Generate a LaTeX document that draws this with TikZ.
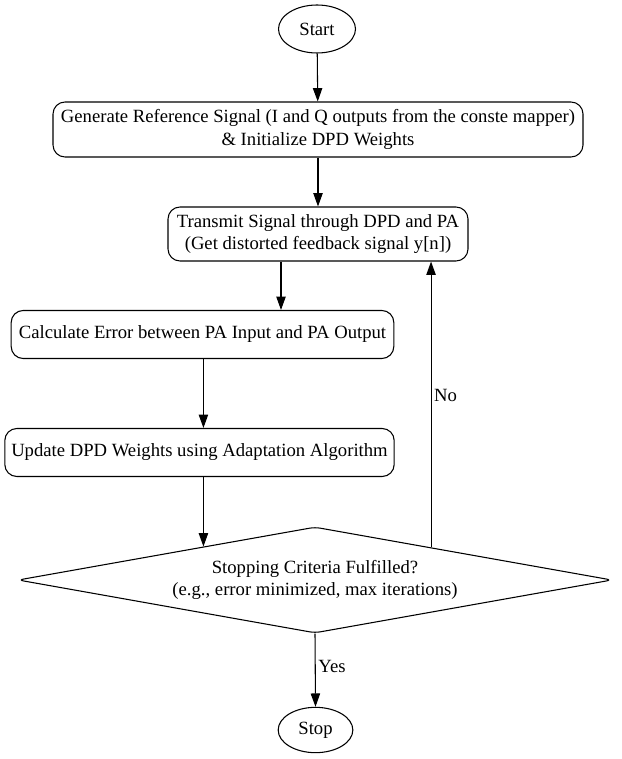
\documentclass[tikz,border=0pt]{standalone}
\usepackage{fontspec}
\setmainfont{Liberation Serif}
\usetikzlibrary{shapes.geometric}
\usetikzlibrary{arrows.meta}
\usetikzlibrary{calc}

\begin{document}
\begin{tikzpicture}[x=0.75pt, y=-0.75pt,
        every node/.style={font=\fontsize{14}{17}\selectfont},
        startstop/.style={draw, ellipse, line width=0.8pt, inner sep=0pt},
        process/.style={draw, rectangle, rounded corners=9pt, line width=0.8pt, align=center, inner sep=0pt, minimum height=36pt},
        decision/.style={draw, diamond, aspect=5.6, rounded corners=4pt, line width=0.8pt, align=center, inner sep=0pt},
        flow/.style={line width=0.8pt, -{Triangle[length=10pt, width=7pt]}},
        edgelabel/.style={inner sep=2pt}]
            \useasboundingbox (0,0) rectangle (621,759);

            % terminals and steps
            \node (start) at (317,29) [startstop, minimum width=57.75pt, minimum height=36pt] {Start};
            \node (gen) at (318,129.5) [process, minimum width=397.5pt, minimum height=41.25pt] {Generate Reference Signal (I and Q outputs from the conste mapper)\\ \& Initialize DPD Weights};
            \node (trans) at (318,234) [process, minimum width=225pt, minimum height=40.5pt] {Transmit Signal through DPD and PA\\ (Get distorted feedback signal y[n])};
            \node (calc) at (202.5,334.5) [process, minimum width=287pt] {Calculate Error between PA Input and PA Output};
            \node (upd) at (199.5,452.5) [process, minimum width=292pt] {Update DPD Weights using Adaptation Algorithm};
            \node (dec) at (315,580) [decision, minimum width=445.5pt, minimum height=79.5pt] {Stopping Criteria Fulfilled?\\ (e.g., error minimized, max iterations)};
            \node (stop) at (315.5,730) [startstop, minimum width=56pt, minimum height=34pt] {Stop};

            \coordinate (drop) at (281,0);
            \coordinate (into dec) at ($(dec.west)!0.625!(dec.north)$);
            \coordinate (loop) at ($(dec.north)!0.39!(dec.east)$);

            \draw [flow] (start) -- (gen);
            \draw [flow] (gen) -- (trans);
            \draw [flow] (trans.south -| drop) -- (calc.north -| drop);
            \draw [flow] (calc.south -| into dec) -- (upd.north -| into dec);
            \draw [flow] (upd.south -| into dec) -- (into dec);
            \draw [flow] (loop) -- (trans.south -| loop) node [pos=0.53, anchor=west, edgelabel] (no) {No};
            \draw [flow] (dec.south) -- (stop.north) node [pos=0.45, anchor=west, edgelabel] (yes) {Yes};
        \end{tikzpicture}
\end{document}
